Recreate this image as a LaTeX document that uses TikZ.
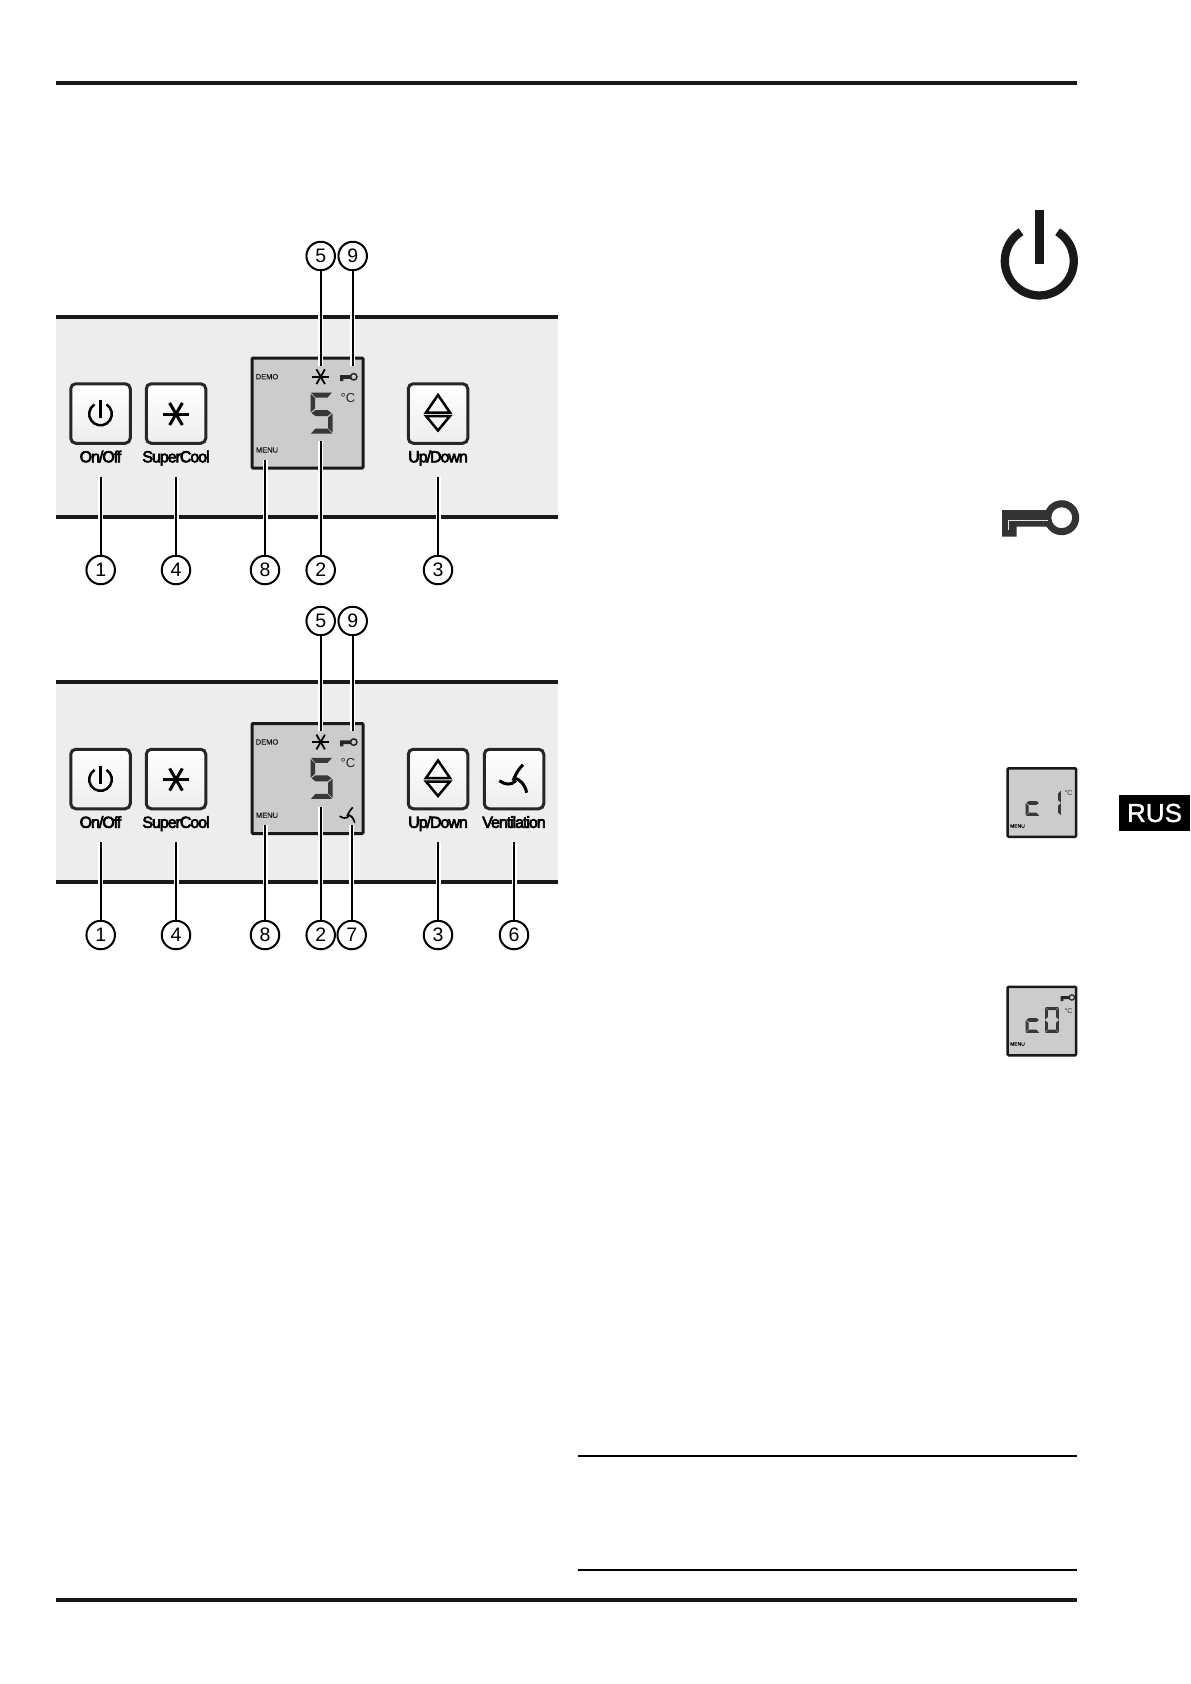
\documentclass[tikz,border=0pt]{standalone}
\usepackage{fontspec}
\setmainfont{Liberation Sans}
\newfontfamily\labelfont[FakeBold=4,LetterSpace=-6.5]{Liberation Sans}
\newfontfamily\smallfont[FakeBold=0.6]{Liberation Sans}
\newfontfamily\tagfont[FakeBold=1.2]{Liberation Sans}
\newcommand{\sega}{(0.5,0) -- (21.5,0) -- (17,5) -- (5,5) -- cycle}
\newcommand{\segb}{(22,1) -- (17.5,5.5) -- (17.5,16) -- (22,20) -- cycle}
\newcommand{\segc}{(22,21) -- (17.5,25) -- (17.5,35.5) -- (22,40) -- cycle}
\newcommand{\segd}{(0.5,41) -- (21.5,41) -- (17,36) -- (5,36) -- cycle}
\newcommand{\sege}{(0,21) -- (4.5,25) -- (4.5,35.5) -- (0,40) -- cycle}
\newcommand{\segf}{(0,1) -- (4.5,5.5) -- (4.5,16) -- (0,20) -- cycle}
\newcommand{\segg}{(1,20.5) -- (5,17.5) -- (17,17.5) -- (21,20.5) -- (17,23.5) -- (5,23.5) -- cycle}
\begin{document}
\begin{tikzpicture}[
		x=1pt, y=-1pt,
		panel/.style = {fill=black!7, draw=none},
		rule/.style = {line width=3.5pt, black!90},
		lcd/.style = {rectangle, draw=black!90, fill=black!20, line width=3pt, rounded corners=1pt},
		b/.style = {rectangle, draw=black!85, top color=white, bottom color=black!7, line width=3pt, rounded corners=5pt, minimum size=59.5pt, inner sep=0pt},
		l/.style = {anchor=base, inner sep=0pt, font=\labelfont\fontsize{16}{16}\selectfont},
		n/.style = {circle, draw=black, fill=white, line width=2pt, minimum size=28.5pt, inner sep=0pt, font=\fontsize{19.5}{20}\selectfont},
		t/.style = {inner sep=0pt, text=black!90, font=\smallfont\fontsize{7.5}{8}\selectfont},
		deg/.style = {inner sep=0pt, text=black!85, font=\fontsize{13}{13}\selectfont},
		r/.style = {black, line width=2.1pt, preaction={draw=white, line width=5pt}},
		s/.style = {black!78},
		five/.pic = {\fill[s] \sega; \fill[s] \segf; \fill[s] \segg; \fill[s] \segc; \fill[s] \segd;},
		cee/.pic = {\fill[s] \segg; \fill[s] \sege; \fill[s] \segd;},
		one/.pic = {\fill[s] \segb; \fill[s] \segc;},
		zero/.pic = {\fill[s] \sega; \fill[s] \segb; \fill[s] \segc; \fill[s] \segd; \fill[s] \sege; \fill[s] \segf;},
		star/.pic = {\draw (-8.5,0) -- (8.5,0); \draw (120:8.5) -- (-60:8.5); \draw (60:8.5) -- (-120:8.5);},
		key/.pic = {
			\fill[even odd rule] (59.7,7.7) circle[radius=17.5] (59.7,7.7) circle[radius=10.5];
			\fill (0,0) -- (49,0) -- (49,16.7) -- (14.7,16.7) -- (14.7,26.7) -- (0,26.7) -- cycle;},
		ring/.pic = {
			\draw[y=1pt] (58:11.3) arc[start angle=58, end angle=-238, radius=11.3];},
		updown/.pic = {
			\draw[line width=2.5pt] (0,-18.5) -- (12,-1) -- (-12,-1) -- cycle;
			\draw[line width=2.5pt] (0,17) -- (12,2.5) -- (-12,2.5) -- cycle;},
		fan/.pic = {
			\draw (-2,-1) .. controls (1,-8) and (3,-12) .. (8,-17);
			\draw (-15.7,-1) .. controls (-10,3) and (-4,4) .. (1,-1);
			\draw (-2,-4) .. controls (5,-3) and (10,3) .. (11.7,11);},
		]
		\useasboundingbox (0, 0) rectangle (1191, 1684);

		%Rules
		\draw[rule]	(56, 83)	--	(1077, 83);
		\draw[rule]	(56, 1600)	--	(1077, 1600);
		\draw[black, line width=2pt]	(578, 1456)	--	(1077, 1456);
		\draw[black, line width=2pt]	(578, 1570)	--	(1077, 1570);

		%Upper panel
		\fill[panel]	(56, 317)	rectangle	(558, 517);
		\draw[rule, line width=4pt]	(56, 317)	--	(558, 317);
		\draw[rule, line width=4pt]	(56, 517)	--	(558, 517);
		\node[lcd, minimum width=111pt, minimum height=110pt]	(d)	at	(307.5, 413)	{};
		\node[b]	(on)	at	(100.5, 413.5)	{};
		\node[b]	(cool)	at	(176, 413.5)	{};
		\node[b]	(ud)	at	(438, 413.5)	{};
		\node[l]	(lon)	at	(100.5, 462.3)	{On/Off};
		\node[l]	(lcool)	at	(176, 462.3)	{SuperCool};
		\node[l]	(lud)	at	(438, 462.3)	{Up/Down};
		\node[t]	(demo)	at	(267, 376.7)	{DEMO};
		\node[t]	(menu)	at	(267, 450)	{MENU};
		\node[deg]	(c)	at	(348, 397.7)	{°C};
		\pic[line width=2.5pt] at (100.5, 414) {ring};
		\draw[line width=2.5pt]	(100.5, 400)	--	(100.5, 418);
		\pic[line width=3pt, scale=1.5] at (176, 414) {star};
		\pic at (438, 413.5) {updown};
		\pic[line width=1.8pt] at (320.7, 376.7) {star};
		\pic[black!85, scale=0.23] at (340, 375) {key};
		\pic at (310.5, 392.5) {five};

		\node[n]	(n5)	at	(320.7, 256)	{5};
		\node[n]	(n9)	at	(352.7, 256)	{9};
		\node[n]	(n1)	at	(100.7, 570)	{1};
		\node[n]	(n4)	at	(176, 570)	{4};
		\node[n]	(n8)	at	(265, 570)	{8};
		\node[n]	(n2)	at	(320.7, 570)	{2};
		\node[n]	(n3)	at	(438, 570)	{3};
		\coordinate	(p5)	at	(320.7, 366);
		\coordinate	(p9)	at	(352.7, 366);
		\coordinate	(p1)	at	(100.7, 477);
		\coordinate	(p4)	at	(176, 477);
		\coordinate	(p8)	at	(265, 460);
		\coordinate	(p2)	at	(320.7, 441);
		\coordinate	(p3)	at	(438, 477);
		\draw[r]	(n5)	to	(p5);
		\draw[r]	(n9)	to	(p9);
		\draw[r]	(n1)	to	(p1);
		\draw[r]	(n4)	to	(p4);
		\draw[r]	(n8)	to	(p8);
		\draw[r]	(n2)	to	(p2);
		\draw[r]	(n3)	to	(p3);

		%Lower panel
		\fill[panel]	(56, 682)	rectangle	(558, 882);
		\draw[rule, line width=4pt]	(56, 682)	--	(558, 682);
		\draw[rule, line width=4pt]	(56, 882)	--	(558, 882);
		\node[lcd, minimum width=111pt, minimum height=110pt]	(d2)	at	(307.5, 778.5)	{};
		\node[b]	(on2)	at	(100.5, 779)	{};
		\node[b]	(cool2)	at	(176, 779)	{};
		\node[b]	(ud2)	at	(438, 779)	{};
		\node[b]	(vent)	at	(514, 779)	{};
		\node[l]	(lon2)	at	(100.5, 827.8)	{On/Off};
		\node[l]	(lcool2)	at	(176, 827.8)	{SuperCool};
		\node[l]	(lud2)	at	(438, 827.8)	{Up/Down};
		\node[l]	(lvent)	at	(514, 827.8)	{Ventilation};
		\node[t]	(demo2)	at	(267, 742)	{DEMO};
		\node[t]	(menu2)	at	(267, 815.3)	{MENU};
		\node[deg]	(c2)	at	(348, 763)	{°C};
		\pic[line width=2.5pt] at (100.5, 779.5) {ring};
		\draw[line width=2.5pt]	(100.5, 765.5)	--	(100.5, 783.5);
		\pic[line width=3pt, scale=1.5] at (176, 779.5) {star};
		\pic at (438, 779) {updown};
		\pic[line width=3pt] at (515, 781.7) {fan};
		\pic[line width=1.8pt] at (320.7, 742) {star};
		\pic[black!85, scale=0.23] at (340, 740.3) {key};
		\pic[line width=1.7pt, scale=0.55] at (348.3, 816.7) {fan};
		\pic at (310.5, 757.8) {five};

		\node[n]	(m5)	at	(320.7, 621)	{5};
		\node[n]	(m9)	at	(352.7, 621)	{9};
		\node[n]	(m1)	at	(100.7, 935)	{1};
		\node[n]	(m4)	at	(176, 935)	{4};
		\node[n]	(m8)	at	(265, 935)	{8};
		\node[n]	(m2)	at	(320.7, 935)	{2};
		\node[n]	(m7)	at	(351.7, 935)	{7};
		\node[n]	(m3)	at	(438, 935)	{3};
		\node[n]	(m6)	at	(514, 935)	{6};
		\coordinate	(q5)	at	(320.7, 731);
		\coordinate	(q9)	at	(352.7, 731);
		\coordinate	(q1)	at	(100.7, 842);
		\coordinate	(q4)	at	(176, 842);
		\coordinate	(q8)	at	(265, 825);
		\coordinate	(q2)	at	(320.7, 807);
		\coordinate	(q7)	at	(351.7, 825);
		\coordinate	(q3)	at	(438, 842);
		\coordinate	(q6)	at	(514, 842);
		\draw[r]	(m5)	to	(q5);
		\draw[r]	(m9)	to	(q9);
		\draw[r]	(m1)	to	(q1);
		\draw[r]	(m4)	to	(q4);
		\draw[r]	(m8)	to	(q8);
		\draw[r]	(m2)	to	(q2);
		\draw[r]	(m7)	to	(q7);
		\draw[r]	(m3)	to	(q3);
		\draw[r]	(m6)	to	(q6);

		%Right column
		\pic[line width=8.3pt, black!90, scale=3.05] at (1039.3, 261) {ring};
		\draw[black!90, line width=8.7pt]	(1039.3, 210)	--	(1039.3, 264);
		\pic[black!80] at (1002, 510) {key};
		\draw[black!10, line width=0.9pt]	(1008.3, 530)	|-	(1048, 520);

		\node[lcd, line width=2.5pt, minimum width=68.5pt, minimum height=68.5pt]	(s1)	at	(1041.8, 802.5)	{};
		\pic[scale=0.63] at (1025.7, 790) {cee};
		\pic[scale=0.63] at (1047, 790) {one};
		\node[inner sep=0pt, text=black!80, font=\fontsize{7}{7}\selectfont]	(c3)	at	(1068.6, 792.6)	{°C};
		\node[inner sep=0pt, text=black, font=\smallfont\fontsize{5}{5}\selectfont]	(menu3)	at	(1017.5, 826)	{MENU};

		\node[lcd, line width=2.5pt, minimum width=68.5pt, minimum height=68.5pt]	(s2)	at	(1041.8, 1021)	{};
		\pic[scale=0.63] at (1025.7, 1007) {cee};
		\pic[scale=0.63] at (1045, 1007) {zero};
		\pic[black!85, scale=0.19] at (1060.5, 996) {key};
		\node[inner sep=0pt, text=black!80, font=\fontsize{7}{7}\selectfont]	(c4)	at	(1068.6, 1010.6)	{°C};
		\node[inner sep=0pt, text=black, font=\smallfont\fontsize{5}{5}\selectfont]	(menu4)	at	(1017.5, 1044)	{MENU};

		\node[rectangle, fill=black, text=white, minimum width=71pt, minimum height=36pt, inner sep=0pt, font=\tagfont\fontsize{26}{26}\selectfont]	(rus)	at	(1154.5, 813)	{RUS};
	\end{tikzpicture}
\end{document}
